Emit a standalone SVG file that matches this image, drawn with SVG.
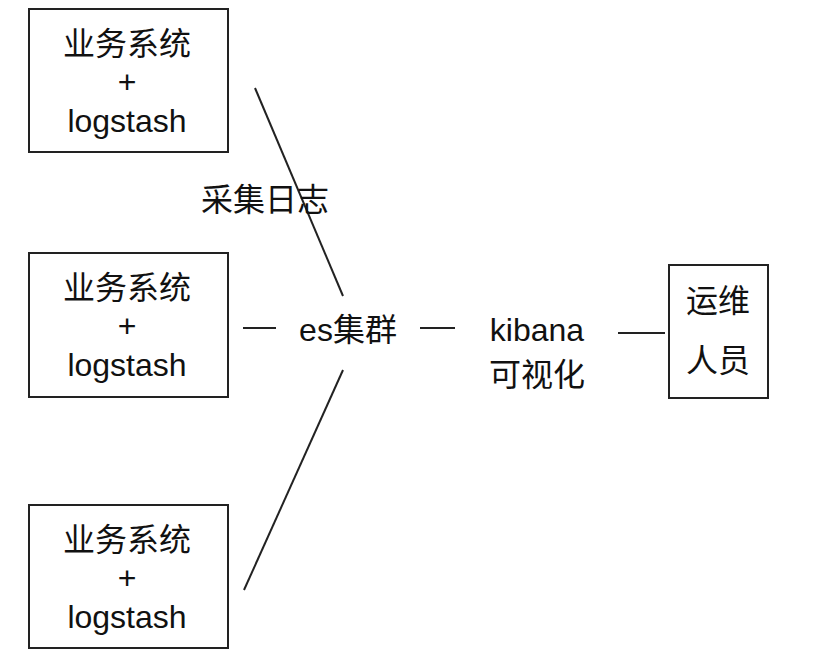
<svg xmlns="http://www.w3.org/2000/svg" width="823" height="667" viewBox="0 0 823 667">
<style>
rect{fill:#fff;stroke:#222;stroke-width:2}
line{stroke:#222;stroke-width:2}
text{font-family:"Liberation Sans","Noto Sans CJK SC",sans-serif;font-size:32px;fill:#111;text-anchor:middle}
</style>
<rect x="0" y="0" width="823" height="667" style="stroke:none"/>
<g id="sys1"><rect x="29" y="9" width="199" height="143"/><text x="127" y="55">业务系统</text><text x="127" y="93">+</text><text x="127" y="132">logstash</text></g>
<g id="sys2"><rect x="29" y="253" width="199" height="144"/><text x="127" y="299">业务系统</text><text x="127" y="337">+</text><text x="127" y="376">logstash</text></g>
<g id="sys3"><rect x="29" y="505" width="199" height="143"/><text x="127" y="551">业务系统</text><text x="127" y="589">+</text><text x="127" y="628">logstash</text></g>
<g id="es"><text x="348" y="341">es集群</text></g>
<g id="kibana"><text x="537" y="341">kibana</text><text x="537" y="386">可视化</text></g>
<g id="ops"><rect x="669" y="265" width="99" height="133"/><text x="718" y="312">运维</text><text x="718" y="372">人员</text></g>
<g id="connectors">
<line x1="255" y1="88" x2="343" y2="296"/>
<line x1="343" y1="370" x2="244" y2="590"/>
<line x1="243" y1="328" x2="276" y2="328"/>
<line x1="420" y1="328" x2="455" y2="328"/>
<line x1="618" y1="333" x2="665" y2="333"/>
<text x="265" y="211">采集日志</text>
</g>
</svg>
